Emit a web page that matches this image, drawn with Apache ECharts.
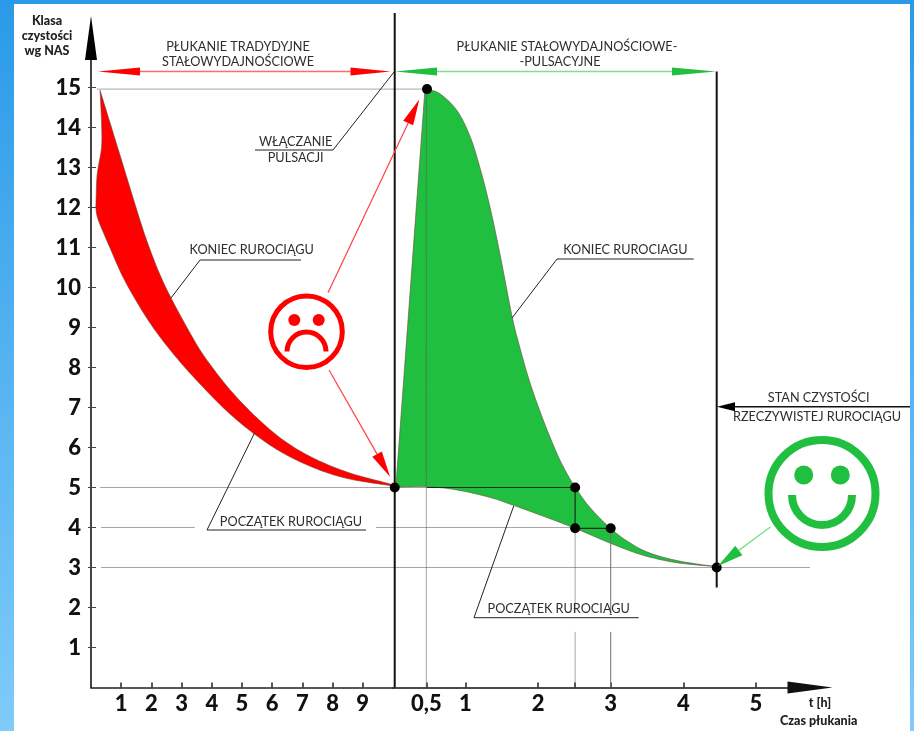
<!DOCTYPE html>
<html><head><meta charset="utf-8">
<script src="https://cdn.jsdelivr.net/npm/echarts@6/dist/echarts.min.js"></script>
<style>
html,body{margin:0;padding:0;width:914px;height:731px;overflow:hidden;background:linear-gradient(180deg,#2a9ae8 0%,#7fcbfa 100%);}
#sheet{position:absolute;left:14px;top:4px;width:896px;height:727px;background:#fff;}
#chart{position:absolute;left:0;top:0;width:914px;height:731px;}
</style></head><body>
<div id="sheet"></div><div id="chart"></div>
<script>
// ---------- data ----------
const classTicks = [1,2,3,4,5,6,7,8,9,10,11,12,13,14,15];
const traditionalTicks = [1,2,3,4,5,6,7,8,9];
const pulseTicks = [0.46,1,2,2.51,3,4,5];
const pulseLabelTicks = [0.46,1,2,3,4,5];
const pulseLabelNames = {0.46:'0,5',1:'1',2:'2',3:'3',4:'4',5:'5'};

const redEnd = [[0.30,14.93],[0.96,13.31],[1.62,11.69],[1.95,10.96],[2.29,10.31],[2.65,9.74],[3.15,9.04],[3.61,8.44],[4.11,7.91],[4.70,7.36],[5.47,6.76],[6.36,6.19],[7.35,5.74],[8.58,5.36],[9.90,5.09],[10,5.03]];
const redStart = [[10,5.03],[9.90,5.05],[8.58,5.21],[7.49,5.46],[6.36,5.86],[5.37,6.36],[4.50,6.91],[3.71,7.51],[2.95,8.14],[2.19,8.86],[1.62,9.51],[1.06,10.26],[0.63,10.99],[0.24,11.69],[0.16,11.99]];
const redBulge = [[0.16,11.99],[0.19,12.69],[0.24,13.01],[0.35,13.51],[0.35,14.11],[0.30,14.93]];
const greenRise = [[0.04,5.01],[0.44,14.92],[0.47,14.96]];
const greenEnd = [[0.47,14.96],[0.65,14.84],[0.88,14.43],[1.06,13.79],[1.20,12.99],[1.34,11.99],[1.48,10.79],[1.64,9.29],[1.75,8.49],[1.89,7.61],[2.07,6.69],[2.25,5.89],[2.37,5.44],[2.51,5.01],[2.71,4.51],[2.99,3.99],[3.27,3.61],[3.54,3.36],[3.95,3.16],[4.46,3.02]];
const greenStart = [[4.46,3.02],[3.91,3.12],[3.44,3.31],[2.99,3.61],[2.51,3.98],[2.03,4.31],[1.65,4.56],[1.34,4.75],[0.88,4.94],[0.47,5.02],[0.04,5.01]];
const keyPoints = [[0.025,5],[0.47,14.96],[2.51,5],[2.51,3.98],[3.0,3.98],[4.46,3]];

const greyLeft = [[[0.2,14.96],[10,14.96]],[[0.3,5],[10,5]],[[0.33,4],[3.44,4]],[[9.44,4],[10,4]],[[0.33,3],[10,3]]];
const greyRight = [[[0,14.96],[0.47,14.96]],[[0,5],[0.47,5]],[[0,4],[2.51,4]],[[0,3],[5.442,3]],[[0.46,14.96],[0.46,0]],[[2.51,4],[2.51,1.87]],[[2.51,1.39],[2.51,0]]];
const midRight = [[[3,4],[3,1.87]],[[3,1.39],[3,0]]];
const darkRight = [[[0.47,5],[2.51,5]],[[2.51,5],[2.51,4]],[[2.51,3.98],[3,3.98]]];
const dividers = [[[0.025,16.86],[0.025,0]],[[4.46,15.4],[4.46,2.5]]];

// ---------- chart ----------
const FONT='Lato';
const leftGrid={left:91,top:60,width:301.9,height:627.5};
const rightGrid={left:392.9,top:60,width:395.1,height:627.5};
// Catmull-Rom drawing of a run of read points (same role as a line's "smooth")
const spline=(p)=>{ if(p.length<3) return p.slice(); const out=[];
  for(let i=0;i<p.length-1;i++){ const a=p[Math.max(i-1,0)],b=p[i],c=p[i+1],d=p[Math.min(i+2,p.length-1)];
    for(let k=0;k<12;k++){ const t=k/12,t2=t*t,t3=t2*t;
      out.push([0,1].map(j=>0.5*(2*b[j]+(c[j]-a[j])*t+(2*a[j]-5*b[j]+4*c[j]-d[j])*t2+(3*b[j]-a[j]-3*c[j]+d[j])*t3))); } }
  out.push(p[p.length-1]); return out; };
const band=(runs,xi,yi,fill,z)=>({type:'custom',coordinateSystem:'cartesian2d',xAxisIndex:xi,yAxisIndex:yi,z:z,silent:true,
  data:runs.flat(),encode:{x:0,y:1},
  renderItem:(p,api)=>{ if(p.dataIndex!==0) return null;
    const pts=runs.flatMap(r=>spline(r.map(d=>api.coord(d))));
    return {type:'polygon',shape:{points:pts},style:{fill:fill,stroke:'#6a4a3a',lineWidth:0.6}}; }});
const seg=(pts,xi,yi,color,w,z)=>({type:'line',xAxisIndex:xi,yAxisIndex:yi,data:pts,showSymbol:false,silent:true,clip:false,z:z,
  lineStyle:{color:color,width:w},animation:false});

const series=[
  band([redEnd,redStart,redBulge],0,0,'#ff0000',2),
  band([[greenRise[0],greenRise[1]],greenEnd,greenStart],1,1,'#20bf40',2),
  ...greyLeft.map(s=>seg(s,0,0,'#a6a6a6',1,1)),
  ...greyRight.map(s=>seg(s,1,1,'rgba(80,80,80,0.5)',1,3)),
  ...midRight.map(s=>seg(s,1,1,'#6e6e6e',1,3)),
  ...darkRight.map(s=>seg(s,1,1,'#10301a',1.2,4)),
  ...dividers.map(s=>seg(s,1,1,'#111111',2,5)),
  {type:'scatter',xAxisIndex:1,yAxisIndex:1,data:keyPoints,symbolSize:10,itemStyle:{color:'#000',opacity:1},z:6,silent:true,clip:false}
];

const arrow=(x1,y1,x2,y2,color,headColor,len,half,w)=>{
  const d=Math.hypot(x2-x1,y2-y1),ux=(x2-x1)/d,uy=(y2-y1)/d,bx=x2-ux*len,by=y2-uy*len;
  return [{type:'line',shape:{x1,y1,x2:bx,y2:by},style:{stroke:color,lineWidth:w}},
    {type:'polygon',shape:{points:[[x2,y2],[bx-uy*half,by+ux*half],[bx+uy*half,by-ux*half]]},style:{fill:headColor}}];
};
const poly=(pts,w)=>({type:'polyline',shape:{points:pts},style:{stroke:'#222',lineWidth:w||1,fill:null}});
const txt=(s,x,y,opt)=>({type:'text',style:Object.assign({text:s,x,y,align:'center',verticalAlign:'middle',fill:'#2e2e2e',font:'12.7px '+FONT},opt||{})});
const bold=f=>({fill:'#222',font:'900 '+f+'px '+FONT});
const circle=(cx,cy,r,c,w)=>({type:'circle',shape:{cx,cy,r},style:w?{stroke:c,lineWidth:w,fill:null}:{fill:c}});
const arc=(cx,cy,r,a,b,c,w)=>({type:'arc',shape:{cx,cy,r,startAngle:a,endAngle:b,clockwise:true},style:{stroke:c,lineWidth:w,fill:null}});

const graphicEls=[
  {type:'polygon',shape:{points:[[91,16],[85,60],[97,60]]},style:{fill:'#000'}},
  {type:'line',shape:{x1:788,y1:567.5,x2:810,y2:567.5},style:{stroke:'#a6a6a6',lineWidth:1}},
  ...arrow(238,71.5,98,71.5,'#ff6b6b','#ff0000',42,4,1.5),
  ...arrow(238,71.5,390.5,71.5,'#ff6b6b','#ff0000',40,4,1.5),
  ...arrow(560,71.5,395,71.5,'#7fe08f','#20bf40',42,4,1.5),
  ...arrow(560,71.5,716,71.5,'#7fe08f','#20bf40',44,4,1.5),
  txt('PŁUKANIE TRADYDYJNE',238,47),txt('STAŁOWYDAJNOŚCIOWE',238,62),
  txt('PŁUKANIE STAŁOWYDAJNOŚCIOWE-',567,47),txt('-PULSACYJNE',560,62),
  txt('WŁĄCZANIE',295.7,142),txt('PULSACJI',295.7,158),
  poly([[255,150],[333,150],[394,72]]),
  txt('KONIEC RUROCIĄGU',251.7,250),poly([[301,260],[200,260],[171,298]]),
  txt('KONIEC RUROCIAGU',625.3,250),poly([[693.7,259],[557,259],[512,318]]),
  txt('POCZĄTEK RUROCIĄGU',291,521.7),poly([[366,530],[207,530],[254.5,433]]),
  txt('POCZĄTEK RUROCIĄGU',558.7,609),poly([[638.7,617.7],[474,617.7],[513.7,506]]),
  txt('STAN CZYSTOŚCI',818.7,398),txt('RZECZYWISTEJ RUROCIĄGU',817,416.7),
  ...arrow(910,406.7,717,406.7,'#111','#000',18,4.5,1.5),
  txt('Klasa',47,21,bold(12.5)),txt('czystości',47,36,bold(12.5)),txt('wg NAS',47,51,bold(12.5)),
  txt('t [h]',820,703,bold(12.5)),txt('Czas płukania',818.7,720.7,bold(12.5)),
  // sad face
  circle(306.5,331.7,35.8,'#ff0000',5),circle(294.3,320,6,'#ff0000'),circle(318.7,320,6,'#ff0000'),
  arc(306.5,351.5,19.5,Math.PI,Math.PI*2,'#ff0000',5),
  ...arrow(328,292.7,419.3,99.5,'#ff4040','#ff0000',26,5.5,1.2),
  ...arrow(329,370,390,476.7,'#ff4040','#ff0000',26,5.5,1.2),
  // happy face
  circle(822,493.5,53.5,'#20bf40',8),circle(803.7,475,9.5,'#20bf40'),circle(840.3,475,9.5,'#20bf40'),
  arc(822,495,30,0,Math.PI,'#20bf40',8),
  ...arrow(770.3,527,718,566,'#7fe08f','#20bf40',26,6,1.5)
];

const numLabel={fontFamily:FONT,fontWeight:900,fontSize:22,color:'#111'};
const chart=echarts.init(document.getElementById('chart'),null,{renderer:'canvas'});
chart.setOption({
  animation:false,backgroundColor:'transparent',
  grid:[leftGrid,rightGrid],
  xAxis:[
    {type:'value',gridIndex:0,min:0,max:10,splitLine:{show:false},
     axisLine:{onZero:false,lineStyle:{color:'#222',width:1.5}},
     axisTick:{inside:true,length:5,customValues:traditionalTicks,lineStyle:{color:'#222',width:1.5}},
     axisLabel:Object.assign({margin:5,customValues:traditionalTicks,formatter:v=>String(v)},numLabel)},
    {type:'value',gridIndex:1,min:0,max:5.442,splitLine:{show:false},
     axisLine:{onZero:false,lineStyle:{color:'#111',width:1.5},symbol:['none','triangle'],symbolSize:[12,45],symbolOffset:[0,22]},
     axisTick:{inside:true,length:5,customValues:pulseTicks,lineStyle:{color:'#222',width:1.5}},
     axisLabel:Object.assign({margin:5,customValues:pulseLabelTicks,formatter:v=>pulseLabelNames[v]||''},numLabel)}
  ],
  yAxis:[
    {type:'value',gridIndex:0,min:0,max:15.6875,splitLine:{show:false},
     axisLine:{onZero:false,lineStyle:{color:'#444',width:2}},
     axisTick:{inside:true,length:5,customValues:classTicks,lineStyle:{color:'#444',width:1}},
     axisLabel:Object.assign({margin:10,customValues:classTicks,formatter:v=>String(v)},numLabel)},
    {type:'value',gridIndex:1,min:0,max:15.6875,show:false},
    {type:'value',gridIndex:0,min:0,max:15.6875,position:'left',splitLine:{show:false},axisLine:{show:false,onZero:false},
     axisTick:{length:3,customValues:classTicks,lineStyle:{color:'#444',width:1}},axisLabel:{show:false}}
  ],
  series:series,
  graphic:{elements:graphicEls.map(e=>Object.assign({z:50,silent:true},e))}
});
</script></body></html>
